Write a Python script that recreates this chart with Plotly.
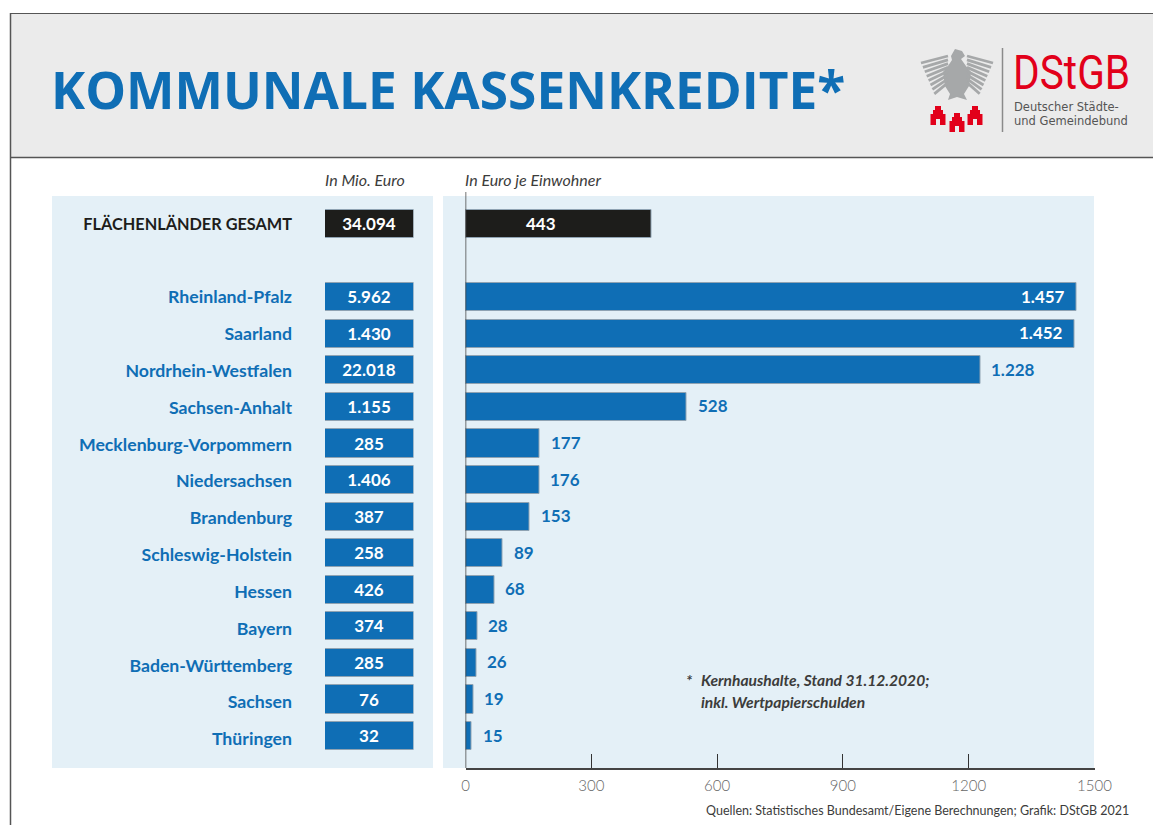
import plotly.graph_objects as go

W, H = 1153, 825
categories = ["FLÄCHENLÄNDER GESAMT", " ", "Rheinland-Pfalz", "Saarland", "Nordrhein-Westfalen", "Sachsen-Anhalt",
              "Mecklenburg-Vorpommern", "Niedersachsen", "Brandenburg", "Schleswig-Holstein", "Hessen", "Bayern",
              "Baden-Württemberg", "Sachsen", "Thüringen"]
mio_euro_labels = ["34.094", "", "5.962", "1.430", "22.018", "1.155", "285", "1.406", "387", "258", "426", "374", "285", "76", "32"]
euro_per_capita = [443, None, 1457, 1452, 1228, 528, 177, 176, 153, 89, 68, 28, 26, 19, 15]
per_capita_labels = ["443", "", "1.457", "1.452", "1.228", "528", "177", "176", "153", "89", "68", "28", "26", "19", "15"]
tick_values = [0, 300, 600, 900, 1200, 1500]

BLUE = "#0f6eb5"
BLACK = "#1d1d1b"
PANEL = "#e4f0f7"
FONT = "Lato"


def px(x):
    return x / W


def py(y):
    return 1 - y / H


def colour(i):
    return BLACK if i == 0 else BLUE


fig = go.Figure()
fig.add_bar(y=categories, x=[None] * len(categories), orientation="h", xaxis="x2", yaxis="y", hoverinfo="skip", showlegend=False)
fig.add_bar(y=categories, x=[None if t == "" else 1 for t in mio_euro_labels], orientation="h", xaxis="x2", yaxis="y2",
            width=0.77, marker=dict(color=[colour(i) for i in range(len(categories))], line=dict(width=1, color="#8fa3b3")),
            text=mio_euro_labels, textposition="inside", insidetextanchor="middle", constraintext="none",
            textangle=0, textfont=dict(family=FONT, size=17, color="white", weight=700), hoverinfo="skip", showlegend=False)
fig.add_bar(y=categories, x=euro_per_capita, orientation="h", xaxis="x", yaxis="y2",
            width=0.77, marker=dict(color=[colour(i) for i in range(len(categories))], line=dict(width=1, color="#8fa3b3")),
            hoverinfo="skip", showlegend=False)

annotations = []
for i, (cat, v, t) in enumerate(zip(categories, euro_per_capita, per_capita_labels)):
    if v is None:
        continue
    if i == 0:
        anchor, shift, col = "center", -110, "white"
    elif v > 1300:
        anchor, shift, col = "right", -9, "white"
    else:
        anchor, shift, col = "left", 9, BLUE
    annotations.append(dict(x=v, y=cat, xref="x", yref="y2", text=f"<b>{t}</b>", showarrow=False, xanchor=anchor, xshift=shift,
                            yshift=1, font=dict(family=FONT, size=17, color=col)))


def label(x, y, text, size, color, anchor="left", family=FONT, vanchor="middle"):
    annotations.append(dict(x=px(x), y=py(y), xref="paper", yref="paper", text=text, showarrow=False, xanchor=anchor,
                            yanchor=vanchor, xshift=0, font=dict(family=family, size=size, color=color)))


label(49, 89, "<b>KOMMUNALE KASSENKREDITE*</b>", 51.4, BLUE, family="Open Sans")
label(323, 179, "<i>In Mio. Euro</i>", 16, "#3c3c3b")
label(463, 179, "<i>In Euro je Einwohner</i>", 16, "#3c3c3b")
label(684, 680, "<b><i>*</i></b>", 15.6, "#3c3c3b")
label(699, 680, "<b><i>Kernhaushalte, Stand 31.12.2020;</i></b>", 15.6, "#3c3c3b")
label(699, 702, "<b><i>inkl. Wertpapierschulden</i></b>", 15.6, "#3c3c3b")
label(1131, 810, "Quellen: Statistisches Bundesamt/Eigene Berechnungen; Grafik: DStGB 2021", 12.5, "#3c3c3b", anchor="right")
label(1071.5, 72, "DStGB", 49, "#e2001a", anchor="center", family="Roboto")
label(1012, 107, "Deutscher Städte-", 11.5, "#555555", family="DejaVu Sans")
label(1012, 121, "und Gemeindebund", 11.5, "#555555", family="DejaVu Sans")


def rect(x0, y0, x1, y1, fill, layer="below"):
    return dict(type="rect", xref="paper", yref="paper", x0=px(x0), x1=px(x1), y0=py(y0), y1=py(y1), fillcolor=fill,
                line=dict(width=0), layer=layer)


def pline(x0, y0, x1, y1, color, width, layer="above"):
    return dict(type="line", xref="paper", yref="paper", x0=px(x0), x1=px(x1), y0=py(y0), y1=py(y1),
                line=dict(color=color, width=width), layer=layer)


def poly(points, fill):
    d = "M " + " L ".join(f"{px(x):.5f} {py(y):.5f}" for x, y in points) + " Z"
    return dict(type="path", xref="paper", yref="paper", path=d, fillcolor=fill, line=dict(width=0), layer="above")


shapes = [
    rect(10, 14, W, 157, "#ebebeb"),
    pline(10, 13.5, W, 13.5, "#555555", 1),
    pline(10, 157.5, W, 157.5, "#555555", 1.5),
    pline(10.5, 13, 10.5, H, "#555555", 1.5),
    rect(52, 196, 433, 768, PANEL),
    rect(443, 196, 1094, 768, PANEL),
    dict(type="line", xref="x", yref="paper", x0=0, x1=0, y0=py(192), y1=py(768), line=dict(color="#444444", width=1.5), layer="above"),
    pline(1002.5, 48, 1002.5, 132, "#8a8a8a", 1.5),
]

# Logo: eagle
GREY = "#a6a8a9"
shapes.append(poly([(951, 56), (955, 49), (962, 51), (965, 56), (961, 59), (966, 66), (971, 72), (969, 86), (964, 94), (967, 100), (957, 97),
                    (948, 100), (950, 94), (945, 86), (943, 72), (948, 66), (952, 60)], GREY))
for k in range(8):
    shapes.append(pline(948, 56 + k * 3.8, 921 + k * 1.9, 63 + k * 4.4, GREY, 2.8))
    shapes.append(pline(967, 56 + k * 3.8, 993 - k * 1.9, 63 + k * 4.4, GREY, 2.8))


# Logo: three red towers
def tower(cx, top):
    return poly([(cx - 3, top), (cx + 3, top), (cx + 3, top + 4), (cx + 5, top + 4), (cx + 5, top + 8), (cx + 7.5, top + 8), (cx + 7.5, top + 19),
                 (cx + 2, top + 19), (cx + 2, top + 13), (cx - 2, top + 13), (cx - 2, top + 19), (cx - 7.5, top + 19), (cx - 7.5, top + 8),
                 (cx - 5, top + 8), (cx - 5, top + 4), (cx - 3, top + 4)], "#e2001a")


shapes += [tower(938, 106), tower(957, 113), tower(975, 106)]


def tick_label(i, c):
    size = 16.3 if i == 0 else 17.7
    return f'<b><span style="color:{colour(i)};font-size:{size}px">{c}</span></b>'


fig.update_layout(
    width=W, height=H, margin=dict(l=0, r=0, t=0, b=0, autoexpand=False), paper_bgcolor="white", plot_bgcolor="rgba(0,0,0,0)",
    autosize=False, bargap=0, showlegend=False, shapes=shapes, annotations=annotations,
    xaxis=dict(domain=[px(465.5), px(1094.5)], range=[0, 1500], anchor="y2", tickmode="array", tickvals=tick_values,
               ticktext=[str(t) for t in tick_values], ticks="inside", ticklen=14, tickwidth=1.2, tickcolor="#333333",
               showline=True, linecolor="#444444", linewidth=2, showgrid=False, zeroline=False, ticklabelstandoff=3,
               tickfont=dict(family=FONT, size=15, color="#666666", weight=300)),
    xaxis2=dict(domain=[px(325), px(413.5)], range=[0, 1], anchor="y", visible=False),
    yaxis=dict(domain=[py(768), py(196)], type="category", categoryorder="array", categoryarray=categories, range=[14.788, -0.742],
               anchor="x2", tickmode="array", tickvals=categories,
               ticktext=[tick_label(i, c) for i, c in enumerate(categories)],
               ticklabelstandoff=32, ticks="", showline=False, showgrid=False, tickfont=dict(family=FONT, size=17.7, color=BLUE)),
    yaxis2=dict(domain=[py(768), py(196)], type="category", categoryorder="array", categoryarray=categories, range=[14.875, -0.766],
                anchor="x", showticklabels=False, ticks="", showline=False, showgrid=False),
)

fig.write_html("out.html", config={"displayModeBar": False}, post_script="""
document.body.style.margin='0';
var squeeze=function(){document.querySelectorAll('text.annotation-text').forEach(function(t){
  if(t.textContent==='DStGB'){t.setAttribute('textLength','117');t.setAttribute('lengthAdjust','spacingAndGlyphs');}
});};
squeeze();setTimeout(squeeze,100);
""")
